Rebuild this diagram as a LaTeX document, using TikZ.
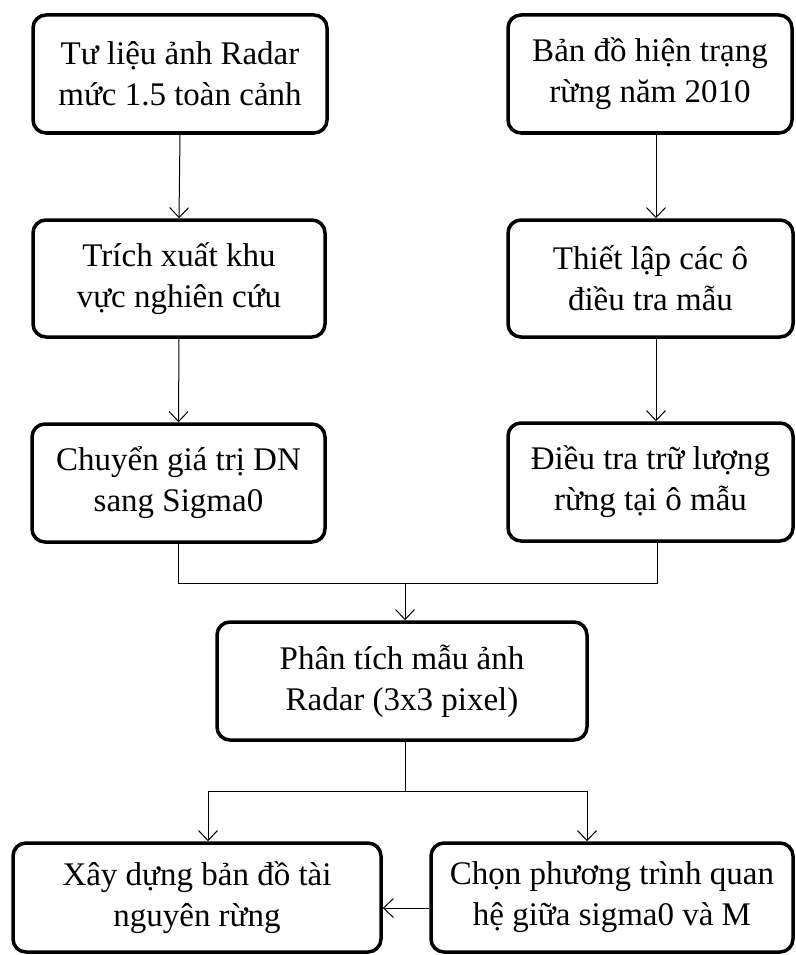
\documentclass[tikz,border=0pt]{standalone}
\usepackage{fontspec}
\setmainfont{Liberation Serif}
\usetikzlibrary{arrows.meta}
\begin{document}
\begin{tikzpicture}[x=1pt,y=-1pt,
  box/.style={draw=black, line width=3.5pt, rounded corners=13pt, fill=white,
    align=center, font=\fontsize{33}{41}\selectfont, inner sep=0pt,
    minimum height=118pt},
  conn/.style={draw=black, line width=1pt},
  arr/.style={conn, -{Straight Barb[length=10pt,width=19pt,line width=1pt]}}]
\useasboundingbox (0,0) rectangle (795,955);
\node[box, minimum width=294pt] (a) at (180,74) {Tư liệu ảnh Radar\\mức 1.5 toàn cảnh};
\node[box, minimum width=284pt] (b) at (650,74) {Bản đồ hiện trạng\\rừng năm 2010};
\node[box, minimum width=292pt, minimum height=117pt] (c) at (179,278.5) {Trích xuất khu\\vực nghiên cứu};
\node[box, minimum width=285pt, minimum height=117pt] (d) at (650.5,278.5) {Thiết lập các ô\\điều tra mẫu};
\node[box, minimum width=293pt] (e) at (178.5,483) {Chuyển giá trị DN\\sang Sigma0};
\node[box, minimum width=285pt] (f) at (650.5,482) {Điều tra trữ lượng\\rừng tại ô mẫu};
\node[box, minimum width=370pt] (g) at (402,681) {Phân tích mẫu ảnh\\Radar (3x3 pixel)};
\node[box, minimum width=368pt, minimum height=109pt] (h) at (197,897.5) {Xây dựng bản đồ tài\\nguyên rừng};
\node[box, minimum width=362pt, minimum height=109pt] (i) at (612,897.5) {Chọn phương trình quan\\hệ giữa sigma0 và M};
\coordinate (jl) at (178,583);
\coordinate (jr) at (657,583);
\coordinate (jm) at (405,583);
\coordinate (kl) at (208,791);
\coordinate (kr) at (587,791);
\coordinate (km) at (405,791);
\draw[arr] (a.south) -- (c.north);
\draw[arr] (b.south -| 656,0) -- (d.north -| 656,0);
\draw[arr] (c.south) -- (e.north);
\draw[arr] (d.south -| 656,0) -- (f.north -| 656,0);
\draw[conn] (e.south -| jl) -- (jl) -- (jr) -- (f.south -| jr);
\draw[arr] (jm) -- (g.north -| jm);
\draw[conn] (g.south -| km) -- (km);
\draw[conn] (kl) -- (kr);
\draw[arr] (kl) -- (h.north -| kl);
\draw[arr] (kr) -- (i.north -| kr);
\draw[arr] (i.west |- 0,908) -- (h.east |- 0,908);
\end{tikzpicture}
\end{document}
